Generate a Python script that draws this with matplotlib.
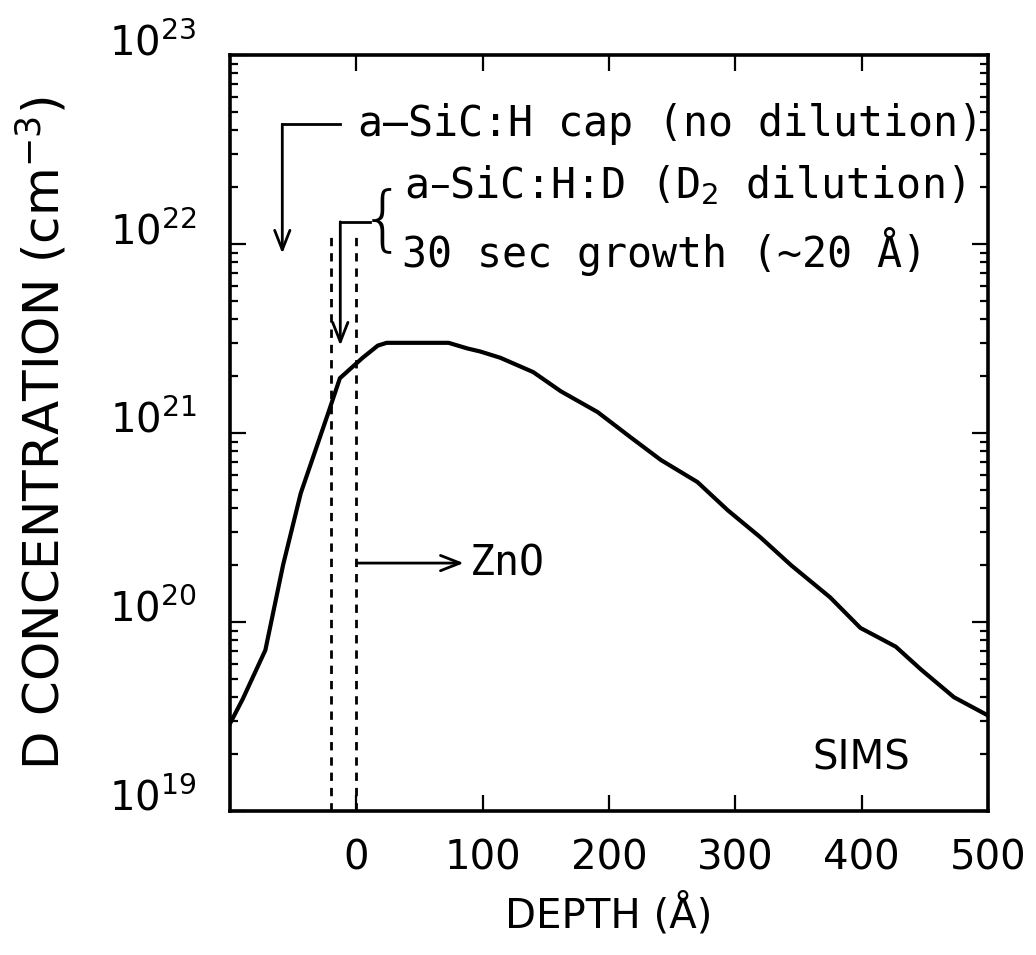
import numpy as np
import matplotlib
matplotlib.use("Agg")
import matplotlib.pyplot as plt

# SIMS depth profile of deuterium
depth = [-100, -90, -72, -58, -44, -22, -13, 5, 17, 24, 48, 73, 88, 98, 114,
         140, 162, 191, 217, 241, 270, 294, 320, 344, 375, 399, 413, 427,
         447, 473, 500]
conc = [2.9e19, 3.9e19, 7.1e19, 2.0e20, 4.8e20, 1.29e21, 1.95e21, 2.5e21,
        2.9e21, 3.0e21, 3.0e21, 3.0e21, 2.8e21, 2.7e21, 2.5e21, 2.1e21,
        1.66e21, 1.29e21, 9.5e20, 7.2e20, 5.5e20, 3.9e20, 2.8e20, 2.0e20,
        1.35e20, 9.3e19, 8.3e19, 7.4e19, 5.6e19, 4.0e19, 3.2e19]

xticks = [0, 100, 200, 300, 400, 500]
yticks = [1e19, 1e20, 1e21, 1e22, 1e23]
ytick_labels = [r"$10^{19}$", r"$10^{20}$", r"$10^{21}$", r"$10^{22}$", r"$10^{23}$"]

# layer boundaries (Angstrom)
boundaries = [-20, 0]

fig = plt.figure(figsize=(10.36, 9.55), dpi=100)
ax = fig.add_axes([0.222, 0.1508, 0.7317, 0.7916])

ax.plot(depth, conc, "k-", lw=3.0)

for b in boundaries:
    ax.plot([b, b], [1e19, 1.15e22], color="k", lw=2.0, ls=(0, (3.0, 2.5)))

ax.set_yscale("log")
ax.set_xlim(-100, 500)
ax.set_ylim(1e19, 1e23)

fs = 29
ax.set_xticks(xticks)
ax.set_xticklabels([str(t) for t in xticks], fontsize=fs)
ax.set_yticks(yticks)
ax.set_yticklabels(ytick_labels, fontsize=fs, va="baseline")
ax.tick_params(which="both", direction="in", top=True, right=True, width=1.6)
ax.tick_params(which="major", length=11.5)
ax.tick_params(which="minor", length=6)
ax.tick_params(axis="x", pad=20)
ax.tick_params(axis="y", pad=24)
for s in ax.spines.values():
    s.set_linewidth(2.6)

ax.set_xlabel("DEPTH (Å)", fontsize=fs, labelpad=10)
ax.set_ylabel(r"D CONCENTRATION (cm$^{-3}$)", fontsize=36)
ax.yaxis.set_label_coords(-0.212, 0.5)

arrow = dict(arrowstyle="->,head_length=1.4,head_width=0.55", lw=2.0,
             color="k", shrinkA=0, shrinkB=0)

mono = "DejaVu Sans Mono"
afs = 30

# cap layer arrow
ax.plot([-12.7, -58.6], [4.3e22, 4.3e22], "k-", lw=2.0)
ax.annotate("", xy=(-58.6, 8.9e21), xytext=(-58.6, 4.3e22), arrowprops=arrow)
ax.text(1.5, 4.3e22, "a–SiC:H cap (no dilution)", fontsize=afs,
        family=mono, va="center")

# D2 dilution layer arrow
ax.plot([11, -12.7], [1.31e22, 1.31e22], "k-", lw=2.0)
ax.annotate("", xy=(-12.7, 2.9e21), xytext=(-12.7, 1.31e22), arrowprops=arrow)
ax.text(21, 1.31e22, "{", fontsize=52, va="center", ha="center",
        fontweight="light")
ax.text(38, 2.05e22, r"a–SiC:H:D (D$_2$ dilution)", fontsize=afs,
        family=mono, va="center")
ax.text(36, 9.1e21, "30 sec growth (~20 Å)", fontsize=afs,
        family=mono, va="center")

# ZnO arrow
ax.annotate("", xy=(85, 2.05e20), xytext=(0, 2.05e20), arrowprops=arrow)
ax.text(90, 2.05e20, "ZnO", fontsize=afs, family=mono, va="center")

ax.text(400, 1.9e19, "SIMS", fontsize=fs, ha="center", va="center")

fig.savefig("out.png", dpi=100)
